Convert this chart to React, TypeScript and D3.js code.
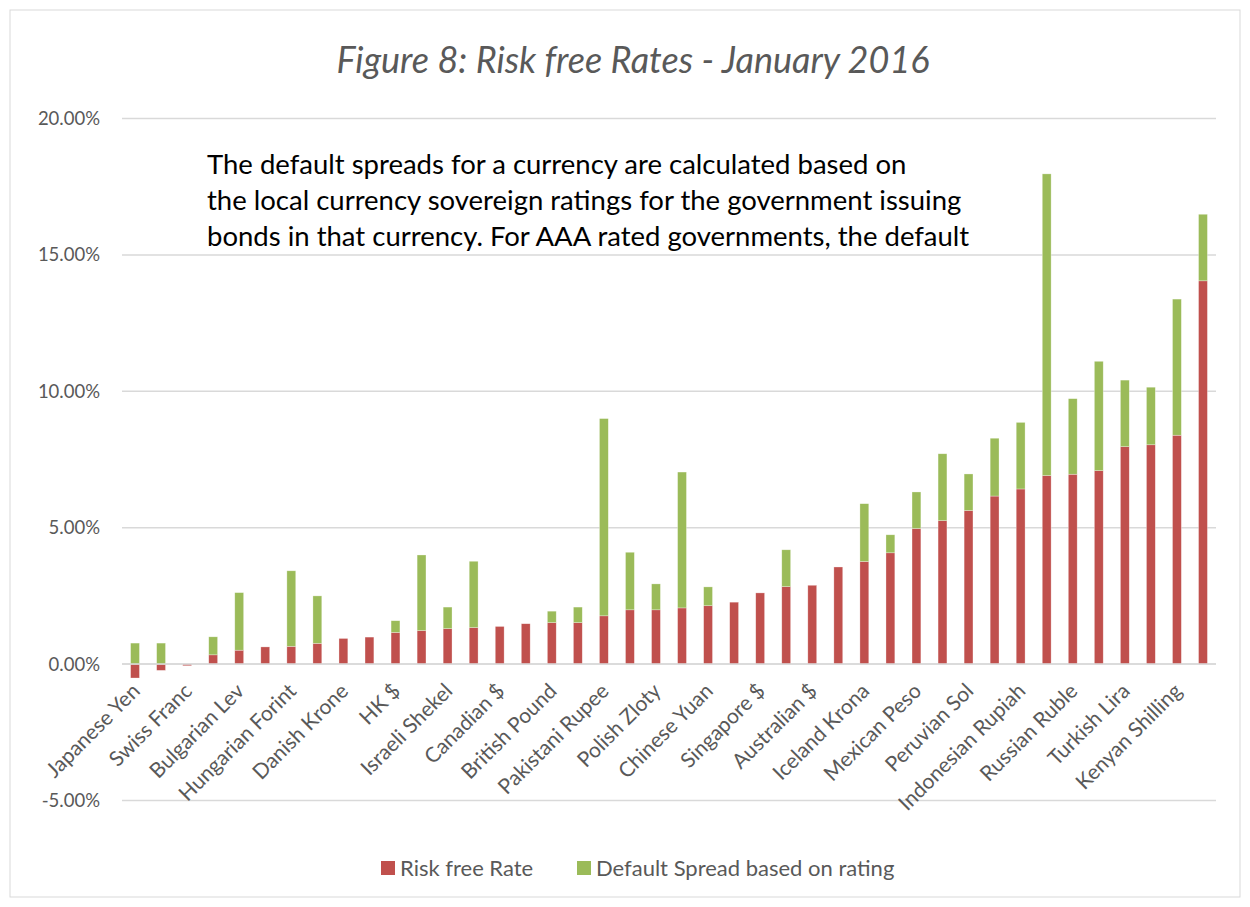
import React from 'react'
import * as d3 from 'd3'

// currencies, sorted by risk free rate (only every other name is shown on the axis)
const currencies = [
  'Japanese Yen', 'Czech Koruna', 'Swiss Franc', 'Euro', 'Bulgarian Lev', 'Swedish Krona',
  'Hungarian Forint', 'Taiwanese $', 'Danish Krone', 'Norwegian Krone', 'HK $', 'Thai Baht',
  'Israeli Shekel', 'Romanian Leu', 'Canadian $', 'Korean Won', 'British Pound', 'Malaysian Ringgit',
  'Pakistani Rupee', 'Philippine Peso', 'Polish Zloty', 'Vietnamese Dong', 'Chinese Yuan', 'US $',
  'Singapore $', 'Chilean Peso', 'Australian $', 'NZ $', 'Iceland Krona', 'Colombian Peso',
  'Mexican Peso', 'Indian Rupee', 'Peruvian Sol', 'South African Rand', 'Indonesian Rupiah', 'Argentine Peso',
  'Russian Ruble', 'Egyptian Pound', 'Turkish Lira', 'Nigerian Naira', 'Kenyan Shilling', 'Brazilian Real'
]

// values in percent
const riskFree = [
  -0.51, -0.23, -0.06, 0.34, 0.51, 0.63,
  0.65, 0.76, 0.94, 0.99, 1.16, 1.23,
  1.30, 1.34, 1.38, 1.48, 1.52, 1.52,
  1.77, 1.99, 1.99, 2.06, 2.14, 2.27,
  2.61, 2.84, 2.89, 3.56, 3.76, 4.08,
  4.97, 5.26, 5.63, 6.16, 6.42, 6.91,
  6.96, 7.09, 7.97, 8.04, 8.39, 14.05
]

const defaultSpread = [
  0.77, 0.77, 0, 0.66, 2.11, 0,
  2.77, 1.74, 0, 0, 0.43, 2.77,
  0.79, 2.43, 0, 0, 0.42, 0.57,
  7.23, 2.11, 0.95, 4.98, 0.69, 0,
  0, 1.35, 0, 0, 2.12, 0.66,
  1.34, 2.45, 1.34, 2.12, 2.44, 11.06,
  2.77, 4.01, 2.44, 2.11, 4.99, 2.44
]

const yTicks = [-5, 0, 5, 10, 15, 20]

const seriesNames = ['Risk free Rate', 'Default Spread based on rating']
const seriesColors = ['#C0504D', '#9BBB59']

const noteLines = [
  'The default spreads for a currency are calculated based on',
  'the local currency sovereign ratings for the government issuing',
  'bonds in that currency. For AAA rated governments, the default'
]

const W = 1234
const H = 891
const FONT = 'Lato, "Open Sans", sans-serif'
const GREY = '#595959'

// excel style: plain hyphen for negatives
const pct = (v: number) => (v < 0 ? '-' : '') + Math.abs(v).toFixed(2) + '%'

export default function App() {
  const x = d3.scaleBand<string>()
    .domain(currencies)
    .range([114, 1208])
    .paddingInner(0)

  const y = d3.scaleLinear()
    .domain([-5, 20])
    .range([792.5, 110.5])

  const rows = currencies.map((c, i) => ({ name: c, rf: riskFree[i], spread: defaultSpread[i] }))
  const stack = d3.stack<any>()
    .keys(['rf', 'spread'])
    .offset(d3.stackOffsetDiverging)
  const layers = stack(rows)

  const bw = x.bandwidth()
  const barW = bw * 0.34
  const zeroY = y(0)

  return (
    <svg width={W} height={H} style={{ display: 'block', fontFamily: FONT }}>
      <rect x={2} y={2} width={W - 4} height={H - 4} fill="#fff" stroke="#d9d9d9" strokeWidth={1} />

      <text x={625} y={65} textAnchor="middle" fontSize={36} fontStyle="italic" fill={GREY}>
        Figure 8: Risk free Rates - January 2016
      </text>

      {/* grid */}
      {yTicks.map(t => (
        <g key={t}>
          <line x1={114} x2={1208} y1={y(t)} y2={y(t)} stroke="#d9d9d9" strokeWidth={1.5} />
          <text x={92} y={y(t)} dy="0.35em" textAnchor="end" fontSize={18.5} fill={GREY}>
            {pct(t)}
          </text>
        </g>
      ))}

      {/* bars */}
      {layers.map((layer, si) => (
        <g key={si} fill={seriesColors[si]}>
          {layer.map((d, i) => {
            const top = y(Math.max(d[0], d[1]))
            const bot = y(Math.min(d[0], d[1]))
            if (bot - top <= 0) return null
            return (
              <rect
                key={i}
                x={x(currencies[i])! + (bw - barW) / 2}
                y={top}
                width={barW}
                height={bot - top}
                stroke="#fff"
                strokeOpacity={0.5}
                strokeWidth={0.6}
              />
            )
          })}
        </g>
      ))}

      <line x1={114} x2={1208} y1={zeroY} y2={zeroY} stroke="#d9d9d9" strokeWidth={1.5} />

      {/* category labels, every other one */}
      {currencies.map((c, i) => i % 2 === 0 && (
        <text
          key={c}
          transform={`translate(${x(c)! + bw / 2 + 1},${zeroY + 23}) rotate(-45)`}
          textAnchor="end"
          dy="0.35em"
          fontSize={21}
          fill={GREY}
        >
          {c}
        </text>
      ))}

      {/* annotation */}
      <text fontSize={27.5} fill="#000">
        {noteLines.map((l, i) => (
          <tspan key={i} x={199} y={166 + i * 36}>{l}</tspan>
        ))}
      </text>

      {/* legend */}
      {seriesNames.map((n, i) => {
        const lx = i === 0 ? 373 : 569
        return (
          <g key={n} transform={`translate(${lx},860)`}>
            <rect x={0} y={-7} width={14} height={14} fill={seriesColors[i]} />
            <text x={19} y={0} dy="0.35em" fontSize={22} fill={GREY}>{n}</text>
          </g>
        )
      })}
    </svg>
  )
}
